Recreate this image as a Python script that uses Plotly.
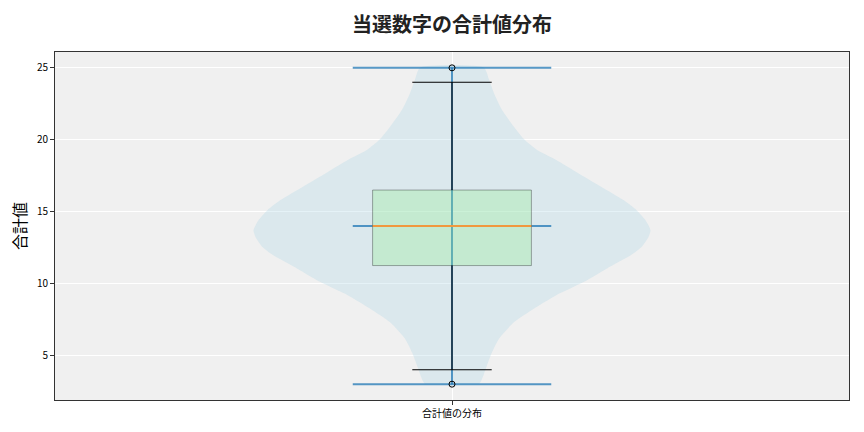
import plotly.graph_objects as go

# ---- data ----
title_text = "当選数字の合計値分布"
y_label = "合計値"
category_labels = ["合計値の分布"]
category_pos = [1]

# violin outline: value levels and relative density (max = 1)
violin_levels = [3.0, 3.35, 4.3, 5.2, 6.15, 7.3, 8.24, 9.17, 10.1, 11.03, 11.96, 12.54,
                 13.24, 13.7, 14.4, 15.1, 15.8, 16.75, 17.65, 18.6, 19.3, 20.05, 20.9,
                 22.1, 23.25, 24.2, 25.0]
violin_density = [0.136, 0.151, 0.176, 0.201, 0.236, 0.312, 0.412, 0.523, 0.663, 0.779,
                  0.900, 0.955, 0.990, 1.0, 0.975, 0.930, 0.864, 0.749, 0.638, 0.523,
                  0.427, 0.362, 0.312, 0.251, 0.211, 0.186, 0.161]

data_min = [3]
data_max = [25]
data_median = [14]
box_q1 = [11.25]
box_q3 = [16.5]
whisker_low = [4]
whisker_high = [24]
outliers = [3, 25]

y_ticks = [5, 10, 15, 20, 25]

# ---- styles ----
violin_half = 0.25
line_half = 0.125
box_half = 0.1
cap_half = 0.05

fig = go.Figure()
c = category_pos[0]

# violin body
vx = [c - d * violin_half for d in violin_density] + [c + d * violin_half for d in reversed(violin_density)]
vy = list(violin_levels) + list(reversed(violin_levels))
fig.add_trace(go.Scatter(x=vx, y=vy, mode="lines", fill="toself",
                         fillcolor="rgba(173,216,230,0.32)",
                         line=dict(width=0, shape="spline", smoothing=0.6),
                         hoverinfo="skip", showlegend=False))

# violin lines (min, max, median, vertical bar)
lx, ly = [], []
for v in (data_min[0], data_max[0], data_median[0]):
    lx += [c - line_half, c + line_half, None]
    ly += [v, v, None]
lx += [c, c, None]
ly += [data_min[0], data_max[0], None]
fig.add_trace(go.Scatter(x=lx, y=ly, mode="lines",
                         line=dict(color="rgba(31,119,180,0.75)", width=2),
                         hoverinfo="skip", showlegend=False))

# box body
bx = [c - box_half, c + box_half, c + box_half, c - box_half, c - box_half]
by = [box_q1[0], box_q1[0], box_q3[0], box_q3[0], box_q1[0]]
fig.add_trace(go.Scatter(x=bx, y=by, mode="lines", fill="toself",
                         fillcolor="rgba(144,238,144,0.3)",
                         line=dict(color="rgba(0,0,0,0.32)", width=1),
                         hoverinfo="skip", showlegend=False))

# whiskers and caps
wx = [c, c, None, c, c, None,
      c - cap_half, c + cap_half, None, c - cap_half, c + cap_half, None]
wy = [box_q1[0], whisker_low[0], None, box_q3[0], whisker_high[0], None,
      whisker_low[0], whisker_low[0], None, whisker_high[0], whisker_high[0], None]
fig.add_trace(go.Scatter(x=wx, y=wy, mode="lines",
                         line=dict(color="black", width=1.1),
                         hoverinfo="skip", showlegend=False))

# median
fig.add_trace(go.Scatter(x=[c - box_half, c + box_half], y=[data_median[0], data_median[0]],
                         mode="lines", line=dict(color="#f0983e", width=1.8),
                         hoverinfo="skip", showlegend=False))

# outliers
fig.add_trace(go.Scatter(x=[c] * len(outliers), y=outliers, mode="markers",
                         marker=dict(symbol="circle-open", size=6,
                                     color="black", line=dict(width=1)),
                         hoverinfo="skip", showlegend=False))

font_family = "Noto Sans CJK JP"
fig.update_layout(
    width=864, height=432,
    margin=dict(l=55, r=15, t=52, b=32, autoexpand=False),
    paper_bgcolor="white", plot_bgcolor="#f0f0f0",
    font=dict(family=font_family, color="black"),
    title=dict(text="<b>" + title_text + "</b>", x=0.5, xref="paper", xanchor="center",
               y=1 - 25 / 432, yref="container", yanchor="middle",
               font=dict(size=20, family=font_family, color="#222")),
    showlegend=False,
)
axis_common = dict(showline=True, linecolor="#333", linewidth=1, mirror=True,
                   ticks="outside", ticklen=4, tickcolor="#333",
                   showgrid=True, gridcolor="white", gridwidth=1, zeroline=False,
                   automargin=False,
                   tickfont=dict(size=10, family=font_family, color="black"))
fig.update_xaxes(range=[0.5, 1.5], tickvals=category_pos, ticktext=category_labels, **axis_common)
fig.update_yaxes(range=[1.9, 26.1], tickvals=y_ticks,
                 title=dict(text=y_label, font=dict(size=16, family=font_family), standoff=6),
                 **axis_common)

fig.write_html("out.html", config={"displayModeBar": False},
               post_script="document.body.style.margin='0';")
